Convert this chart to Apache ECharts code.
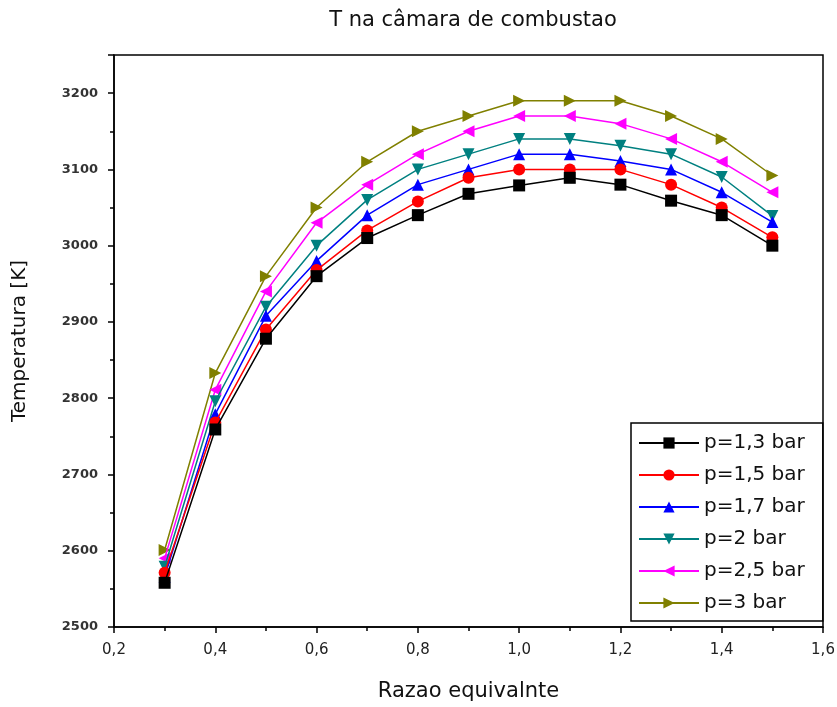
<!DOCTYPE html>
<html>
<head>
<meta charset="utf-8">
<script src="https://cdn.jsdelivr.net/npm/echarts@6/dist/echarts.min.js"></script>
<style>
  html, body { margin: 0; padding: 0; background: #fff; }
  #main { width: 837px; height: 707px; }
</style>
</head>
<body>
<div id="main"></div>
<script>
// razao equivalente
var razao = [0.3, 0.4, 0.5, 0.6, 0.7, 0.8, 0.9, 1.0, 1.1, 1.2, 1.3, 1.4, 1.5];

// temperatura [K] para cada pressao
var p13 = [2558, 2759, 2878, 2960, 3010, 3040, 3068, 3079, 3089, 3080, 3059, 3040, 3000];
var p15 = [2571, 2768, 2890, 2968, 3020, 3058, 3089, 3100, 3100, 3100, 3080, 3050, 3011];
var p17 = [2566, 2779, 2908, 2980, 3040, 3080, 3100, 3120, 3120, 3111, 3100, 3070, 3031];
var p20 = [2579, 2796, 2920, 3000, 3060, 3100, 3120, 3140, 3140, 3131, 3120, 3090, 3039];
var p25 = [2590, 2811, 2940, 3030, 3080, 3120, 3150, 3170, 3170, 3160, 3140, 3110, 3070];
var p30 = [2601, 2833, 2960, 3050, 3110, 3150, 3170, 3190, 3190, 3190, 3170, 3140, 3092];

var nomes = ['p=1,3 bar', 'p=1,5 bar', 'p=1,7 bar', 'p=2 bar', 'p=2,5 bar', 'p=3 bar'];
var cores = ['#000000', '#ff0000', '#0000ff', '#008080', '#ff00ff', '#808000'];
var simbolos = ['rect', 'circle', 'triangle', 'triangle', 'triangle', 'triangle'];
var rotacoes = [0, 0, 0, 180, 90, -90];
var dados = [p13, p15, p17, p20, p25, p30];

var fonte = 'DejaVu Sans';

function pares(ys) {
    return razao.map(function (x, i) { return [x, ys[i]]; });
}

var series = dados.map(function (ys, k) {
    return {
        name: nomes[k],
        type: 'line',
        data: pares(ys),
        symbol: simbolos[k],
        symbolRotate: rotacoes[k],
        symbolSize: 12,
        showAllSymbol: true,
        lineStyle: { color: cores[k], width: 1.5 },
        itemStyle: { color: cores[k] },
        emphasis: { disabled: true },
        z: 10 - k
    };
});

var myChart = echarts.init(document.getElementById('main'));
myChart.setOption({
    animation: false,
    title: {
        text: 'T na câmara de combustao',
        left: 468,
        textAlign: 'center',
        top: 5,
        textStyle: { fontFamily: fonte, fontSize: 21, fontWeight: 'normal', color: '#111' }
    },
    grid: {
        left: 114, right: 14, top: 55, bottom: 80,
        outerBoundsMode: 'none',
        containLabel: false,
        show: true, borderColor: '#000', borderWidth: 1.5, backgroundColor: 'transparent'
    },
    legend: {
        orient: 'vertical',
        left: 631,
        top: 423,
        itemWidth: 60,
        itemHeight: 14,
        itemGap: 12,
        padding: [10, 18, 8, 7],
        borderColor: '#000',
        borderWidth: 1.5,
        backgroundColor: '#fff',
        textStyle: { fontFamily: fonte, fontSize: 20, lineHeight: 20, color: '#111' },
        data: nomes
    },
    xAxis: {
        type: 'value',
        min: 0.2, max: 1.6, interval: 0.2,
        name: 'Razao equivalnte',
        nameLocation: 'middle',
        nameGap: 54,
        nameTextStyle: { fontFamily: fonte, fontSize: 21, color: '#111' },
        axisLine: { lineStyle: { color: '#000', width: 1.5 } },
        axisTick: { inside: false, length: 6, lineStyle: { color: '#000', width: 1.5 } },
        minorTick: { show: true, splitNumber: 2, length: 4, lineStyle: { color: '#000', width: 1.5 } },
        splitLine: { show: false },
        axisLabel: {
            margin: 16,
            fontFamily: fonte, fontSize: 15, color: '#222',
            formatter: function (v) { return v.toFixed(1).replace('.', ','); }
        }
    },
    yAxis: {
        type: 'value',
        min: 2500, max: 3250, interval: 100,
        name: 'Temperatura [K]',
        nameLocation: 'middle',
        nameGap: 84,
        nameTextStyle: { fontFamily: fonte, fontSize: 20, color: '#111' },
        axisLine: { lineStyle: { color: '#000', width: 1.5 } },
        axisTick: { inside: false, length: 6, lineStyle: { color: '#000', width: 1.5 } },
        minorTick: { show: true, splitNumber: 2, length: 4, lineStyle: { color: '#000', width: 1.5 } },
        splitLine: { show: false },
        axisLabel: {
            margin: 16,
            showMaxLabel: false,
            fontFamily: fonte, fontSize: 13, fontWeight: 'bold', color: '#333',
            formatter: function (v) { return String(v); }
        }
    },
    series: series
});
</script>
</body>
</html>
